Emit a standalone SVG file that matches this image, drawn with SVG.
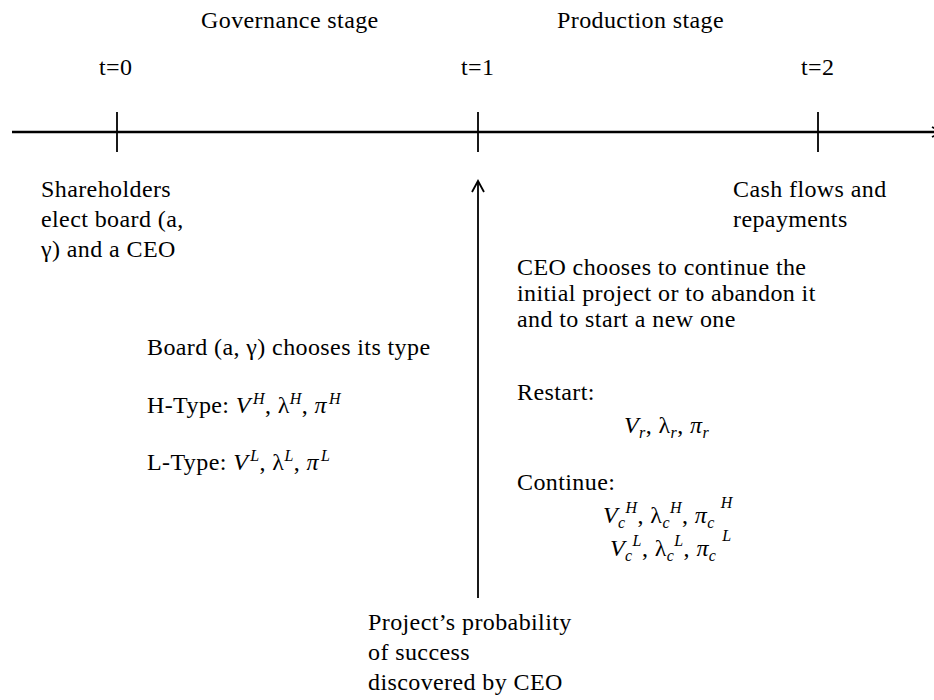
<svg xmlns="http://www.w3.org/2000/svg" width="934" height="700" viewBox="0 0 934 700">
<style>
text{font-family:'Liberation Serif','Times New Roman',Times,Tinos,'Noto Serif','DejaVu Serif',serif;font-size:24px;fill:#000;letter-spacing:0.4px}
.m{font-style:italic}
.s{font-size:16px;font-style:italic}
.ax{stroke:#000;stroke-width:2.5;fill:none}
.tk{stroke:#000;stroke-width:1.8;fill:none}
</style>
<rect width="934" height="700" fill="#fff"/>
<g id="timeline">
<line class="ax" x1="12" y1="132" x2="940" y2="132"/>
<polyline class="tk" points="932,127 942,132 932,137"/>
<line class="tk" x1="117" y1="112" x2="117" y2="152"/>
<line class="tk" x1="478" y1="112" x2="478" y2="152"/>
<line class="tk" x1="818" y1="112" x2="818" y2="152"/>
</g>
<g id="stages">
<text x="201" y="28">Governance stage</text>
<text x="557" y="28">Production stage</text>
</g>
<g id="t0"><text x="99" y="75">t=0</text></g>
<g id="t1"><text x="461" y="75">t=1</text></g>
<g id="t2"><text x="801" y="75">t=2</text></g>
<g id="shareholders">
<text x="41" y="197">Shareholders</text>
<text x="41" y="227">elect board (a,</text>
<text x="41" y="257">γ)  and a CEO</text>
</g>
<g id="cashflows">
<text x="733" y="197">Cash flows and</text>
<text x="733" y="227">repayments</text>
</g>
<g id="ceo-choice">
<text x="517" y="275">CEO chooses to continue the</text>
<text x="517" y="301">initial project or to abandon it</text>
<text x="517" y="327">and to start a new one</text>
</g>
<g id="board">
<text x="147" y="355">Board (a, γ) chooses its type</text>
<text x="147" y="413">H-Type: <tspan class="m">V</tspan><tspan class="s" dx="2" dy="-9">H</tspan><tspan dy="9">, λ</tspan><tspan class="s" dy="-9">H</tspan><tspan dy="9">, </tspan><tspan class="m">π</tspan><tspan class="s" dx="2" dy="-9">H</tspan></text>
<text x="147" y="470">L-Type: <tspan class="m">V</tspan><tspan class="s" dx="2" dy="-9">L</tspan><tspan dy="9">, λ</tspan><tspan class="s" dy="-9">L</tspan><tspan dy="9">, </tspan><tspan class="m">π</tspan><tspan class="s" dx="2" dy="-9">L</tspan></text>
</g>
<g id="restart">
<text x="517" y="400">Restart:</text>
<text x="624" y="433"><tspan class="m">V</tspan><tspan class="s" dy="5">r</tspan><tspan dy="-5">, λ</tspan><tspan class="s" dy="5">r</tspan><tspan dy="-5">, </tspan><tspan class="m">π</tspan><tspan class="s" dy="5">r</tspan></text>
</g>
<g id="continue">
<text x="517" y="490">Continue:</text>
<text x="603" y="523"><tspan class="m">V</tspan><tspan class="s" dy="5">c</tspan><tspan class="s" dy="-15">H</tspan><tspan dy="10">, λ</tspan><tspan class="s" dy="5">c</tspan><tspan class="s" dy="-15">H</tspan><tspan dy="10">, </tspan><tspan class="m">π</tspan><tspan class="s" dy="5">c</tspan><tspan class="s" dx="6" dy="-20">H</tspan></text>
<text x="610" y="556"><tspan class="m">V</tspan><tspan class="s" dy="5">c</tspan><tspan class="s" dy="-15">L</tspan><tspan dy="10">, λ</tspan><tspan class="s" dy="5">c</tspan><tspan class="s" dy="-15">L</tspan><tspan dy="10">, </tspan><tspan class="m">π</tspan><tspan class="s" dy="5">c</tspan><tspan class="s" dx="6" dy="-20">L</tspan></text>
</g>
<g id="discovery">
<text x="368" y="630">Project’s probability</text>
<text x="368" y="660">of success</text>
<text x="368" y="690">discovered by CEO</text>
</g>
<g id="connectors">
<line class="tk" x1="478" y1="598" x2="478" y2="182"/>
<polyline class="tk" points="472,192 478,181 484,192"/>
</g>
</svg>
